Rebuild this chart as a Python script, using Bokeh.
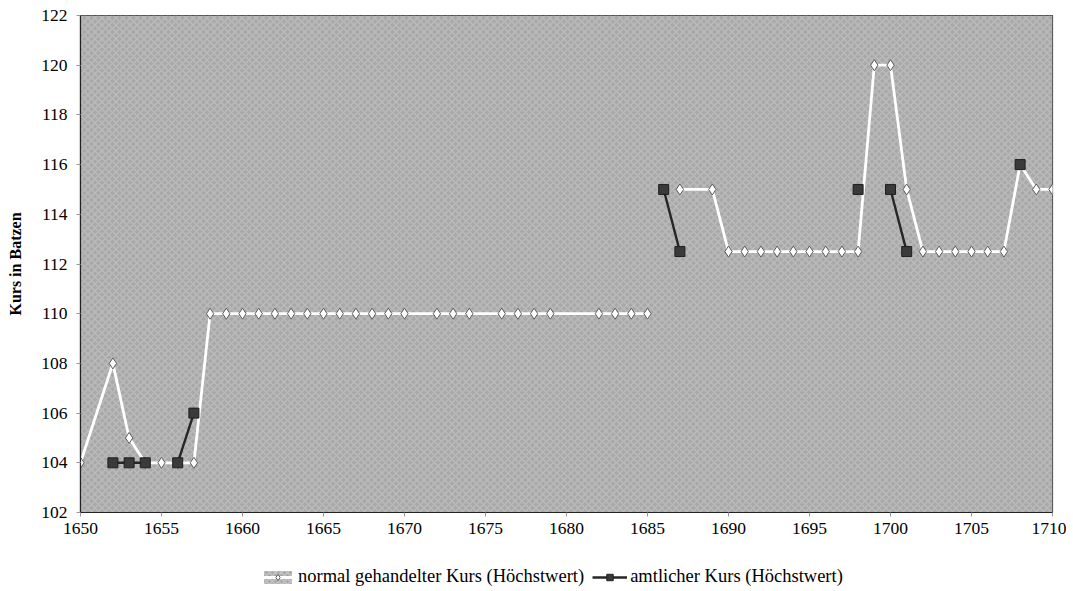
import math
from bokeh.plotting import figure
from bokeh.layouts import column
from bokeh.models import (Legend, LegendItem, BoxAnnotation, ColumnDataSource,
                          FixedTicker, Range1d)
from bokeh.embed import file_html
from bokeh.resources import INLINE

NaN = float("nan")

# --- data -------------------------------------------------------------
# "normal gehandelter Kurs (Höchstwert)" (NaN = break in the line)
normal_years = [1650, 1652, 1653, 1654, 1655, 1656, 1657,
                1658, 1659, 1660, 1661, 1662, 1663, 1664, 1665, 1666, 1667, 1668, 1669, 1670,
                1672, 1673, 1674, 1676, 1677, 1678, 1679, 1682, 1683, 1684, 1685,
                1686,
                1687, 1689, 1690, 1691, 1692, 1693, 1694, 1695, 1696, 1697, 1698,
                1699, 1700, 1701, 1702, 1703, 1704, 1705, 1706, 1707, 1708, 1709, 1710]
normal_values = [104, 108, 105, 104, 104, 104, 104,
                 110, 110, 110, 110, 110, 110, 110, 110, 110, 110, 110, 110, 110,
                 110, 110, 110, 110, 110, 110, 110, 110, 110, 110, 110,
                 NaN,
                 115, 115, 112.5, 112.5, 112.5, 112.5, 112.5, 112.5, 112.5, 112.5, 112.5,
                 120, 120, 115, 112.5, 112.5, 112.5, 112.5, 112.5, 112.5, 116, 115, 115]

# "amtlicher Kurs (Höchstwert)"
official_years = [1652, 1653, 1654, 1655, 1656, 1657, 1658,
                  1686, 1687, 1688, 1698, 1699, 1700, 1701, 1702, 1708]
official_values = [104, 104, 104, NaN, 104, 106, NaN,
                   115, 112.5, NaN, 115, NaN, 115, 112.5, NaN, 116]

x_ticks = list(range(1650, 1711, 5))
y_ticks = list(range(102, 123, 2))

label_normal = "normal gehandelter Kurs (Höchstwert)"
label_official = "amtlicher Kurs (Höchstwert)"
y_title = "Kurs in Batzen"

FONT = "Liberation Serif"

# styles
WHITE_LINE = dict(line_color="white", line_width=2.8)
WHITE_MARK = dict(marker="diamond", size=11, fill_color="white",
                  line_color="#5a5a5a", line_width=1)
DARK_LINE = dict(line_color="#262626", line_width=2.4)
DARK_MARK = dict(marker="square", size=10, fill_color="#3a3a3a",
                 line_color="#1e1e1e", line_width=1)

# --- main figure ------------------------------------------------------
p = figure(frame_width=972, frame_height=497,
           x_range=Range1d(1650, 1710), y_range=Range1d(102, 122),
           output_backend="svg", toolbar_location=None,
           min_border_left=80, min_border_right=14, min_border_top=15,
           min_border_bottom=50)

p.background_fill_color = "#a9a9a9"
p.border_fill_color = "white"
p.outline_line_color = "#333333"
p.outline_line_width = 1.2

# textured plot area
p.add_layout(BoxAnnotation(fill_color="#a8a8a8", fill_alpha=1.0, line_alpha=0,
                           hatch_pattern="diagonal_cross", hatch_color="#c2c2c2",
                           hatch_alpha=0.75, hatch_scale=7, hatch_weight=1.5,
                           level="underlay"))

p.xgrid.grid_line_color = None
p.ygrid.grid_line_color = "#383838"
p.ygrid.grid_line_width = 1.1
p.ygrid.level = "underlay"

p.xaxis.ticker = FixedTicker(ticks=x_ticks)
p.yaxis.ticker = FixedTicker(ticks=y_ticks)
p.xaxis.minor_tick_line_color = None
p.yaxis.minor_tick_line_color = None
for ax in (p.xaxis, p.yaxis):
    ax.axis_line_color = "#222222"
    ax.axis_line_width = 1.2
    ax.major_tick_line_color = "#999999"
    ax.major_tick_in = 0
    ax.major_tick_out = 4
    ax.major_label_text_font = FONT
    ax.major_label_text_font_size = "17.5px"
    ax.major_label_text_color = "black"
p.xaxis.major_label_standoff = 6
p.yaxis.major_label_standoff = 9

p.yaxis.axis_label = y_title
p.yaxis.axis_label_text_font = FONT
p.yaxis.axis_label_text_font_style = "bold"
p.yaxis.axis_label_text_font_size = "16px"
p.yaxis.axis_label_text_color = "black"
p.yaxis.axis_label_standoff = 14

src_n = ColumnDataSource(dict(x=normal_years, y=normal_values))
src_o = ColumnDataSource(dict(x=official_years, y=official_values))

p.line("x", "y", source=src_n, **WHITE_LINE)
p.scatter("x", "y", source=src_n, **WHITE_MARK)
p.line("x", "y", source=src_o, **DARK_LINE)
p.scatter("x", "y", source=src_o, **DARK_MARK)

# --- legend strip (separate small figure below the chart) -------------
lf = figure(width=80 + 972 + 14, height=28,
            x_range=Range1d(0, 1), y_range=Range1d(0, 1),
            x_axis_type=None, y_axis_type=None,
            output_backend="svg", toolbar_location=None,
            min_border=0)
lf.outline_line_color = None
lf.background_fill_color = "white"
lf.border_fill_color = "white"
lf.xgrid.grid_line_color = None
lf.ygrid.grid_line_color = None

# legend-only renderers, placed outside the visible range of the strip
off = ColumnDataSource(dict(x=[-5], y=[-5]))
swatch = lf.quad(left=[-6], right=[-5], top=[-5], bottom=[-6],
                 fill_color="#a8a8a8", line_alpha=0,
                 hatch_pattern="diagonal_cross", hatch_color="#cccccc",
                 hatch_alpha=0.8, hatch_scale=6, hatch_weight=1.5)
l_ln = lf.line("x", "y", source=off, **WHITE_LINE)
l_mn = lf.scatter("x", "y", source=off, **WHITE_MARK)
l_lo = lf.line("x", "y", source=off, **DARK_LINE)
l_mo = lf.scatter("x", "y", source=off, **DARK_MARK)

legend = Legend(items=[LegendItem(label=label_normal, renderers=[swatch, l_ln, l_mn]),
                       LegendItem(label=label_official, renderers=[l_lo, l_mo])],
                orientation="horizontal", location=(178, 1),
                label_text_font=FONT, label_text_font_size="18.5px",
                label_text_color="black", border_line_alpha=0,
                background_fill_alpha=0, glyph_width=35, glyph_height=16,
                label_height=16, spacing=8, label_standoff=3, padding=2, margin=0)
lf.add_layout(legend, "center")

open("out.html", "w").write(file_html(column(p, lf, spacing=0), INLINE))
